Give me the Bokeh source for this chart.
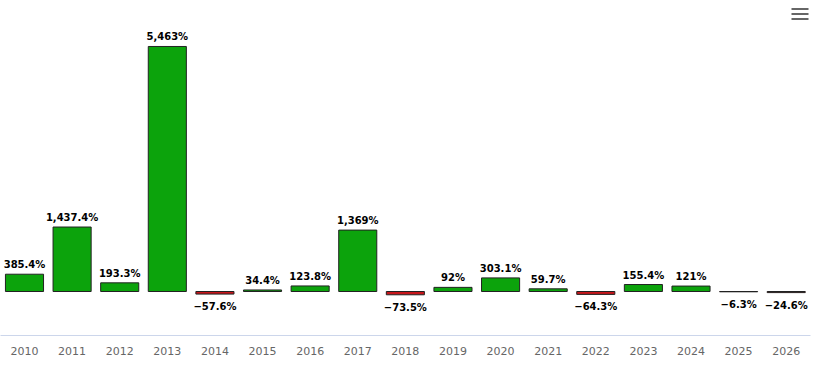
from bokeh.plotting import figure
from bokeh.models import ColumnDataSource, FixedTicker, Range1d, BoxAnnotation
from bokeh.embed import file_html
from bokeh.resources import INLINE
from bokeh.core.properties import value

years = ["2010", "2011", "2012", "2013", "2014", "2015", "2016", "2017", "2018",
         "2019", "2020", "2021", "2022", "2023", "2024", "2025", "2026"]
changes = [385.4, 1437.4, 193.3, 5463, -57.6, 34.4, 123.8, 1369, -73.5,
           92, 303.1, 59.7, -64.3, 155.4, 121, -6.3, -24.6]
labels = ["385.4%", "1,437.4%", "193.3%", "5,463%", "\u221257.6%", "34.4%", "123.8%",
          "1,369%", "\u221273.5%", "92%", "303.1%", "59.7%", "\u221264.3%", "155.4%",
          "121%", "\u22126.3%", "\u221224.6%"]

GREEN = "#0ca30c"
RED = "#c8161b"

idx = list(range(len(years)))
colors = [GREEN if v > 0 else RED for v in changes]
pos_i = [i for i, v in enumerate(changes) if v >= 0]
neg_i = [i for i, v in enumerate(changes) if v < 0]

src = ColumnDataSource(dict(x=idx, top=changes, color=colors))
pos = ColumnDataSource(dict(x=[idx[i] for i in pos_i], y=[changes[i] for i in pos_i],
                            t=[labels[i] for i in pos_i]))
neg = ColumnDataSource(dict(x=[idx[i] for i in neg_i], y=[changes[i] for i in neg_i],
                            t=[labels[i] for i in neg_i]))

p = figure(width=817, height=367, output_backend="svg", toolbar_location=None,
           x_range=Range1d(-0.504, 16.51), y_range=Range1d(-981, 6488),
           min_border_left=0, min_border_right=7, min_border_top=0, min_border_bottom=32)
p.outline_line_color = None
p.grid.visible = False
p.yaxis.visible = False
p.background_fill_color = "white"

p.vbar(x="x", top="top", bottom=0, width=0.8, source=src,
       fill_color="color", line_color="#222222", line_width=1)

p.text(x="x", y="y", text="t", source=pos, text_align="center", text_baseline="bottom",
       y_offset=-4, text_font=value("DejaVu Sans"), text_font_style="bold",
       text_font_size="10px", text_color="#000000")
p.text(x="x", y="y", text="t", source=neg, text_align="center", text_baseline="top",
       y_offset=7, text_font=value("DejaVu Sans"), text_font_style="bold",
       text_font_size="10px", text_color="#000000")

ax = p.xaxis[0]
ax.ticker = FixedTicker(ticks=idx)
ax.major_label_overrides = {i: y for i, y in zip(idx, years)}
ax.axis_line_color = "#ccd6eb"
ax.major_tick_line_color = None
ax.minor_tick_line_color = None
ax.major_label_text_color = "#666666"
ax.major_label_text_font = "DejaVu Sans"
ax.major_label_text_font_size = "11px"
ax.major_label_standoff = 5

# context-menu (hamburger) icon
for top_px in (327.5, 322.5, 317.5):
    p.add_layout(BoxAnnotation(left=791, right=808, top=top_px, bottom=top_px - 2,
                               left_units="screen", right_units="screen",
                               top_units="screen", bottom_units="screen",
                               fill_color="#666666", fill_alpha=1, line_color=None))

open("out.html", "w").write(file_html(p, INLINE))
